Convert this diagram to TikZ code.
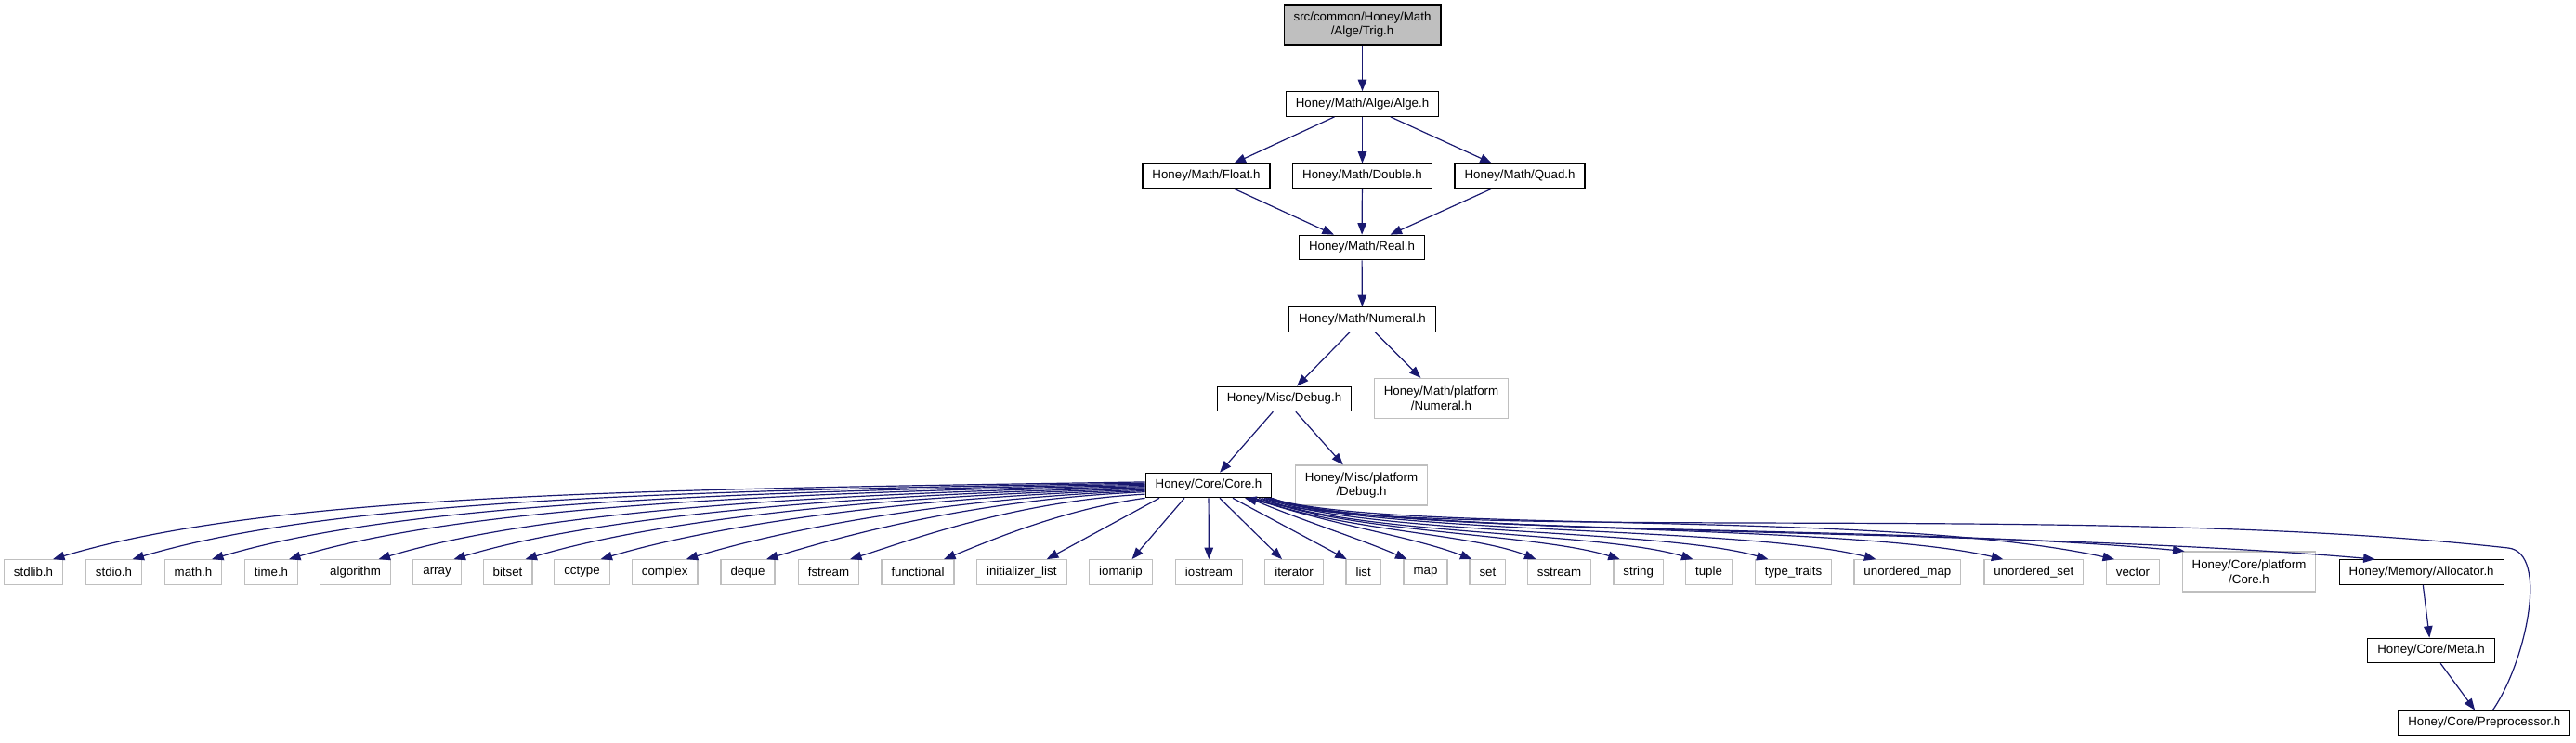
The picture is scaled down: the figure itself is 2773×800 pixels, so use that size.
\documentclass[tikz,border=0pt]{standalone}
\usepackage{fontspec}
\setmainfont{Liberation Sans}
\usepackage{tikz}
\usetikzlibrary{arrows.meta}

\definecolor{edgeblue}{HTML}{191970}
\definecolor{extgrey}{HTML}{BFBFBF}

\begin{document}
\begin{tikzpicture}[x=1pt, y=-1pt,
    file/.style={draw=black, line width=1.2pt, rectangle, inner xsep=10.5pt, inner ysep=0pt,
                 minimum height=26.5pt, align=center, font=\fontsize{13.3}{15.7}\selectfont},
    sys/.style={file, draw=extgrey},
    two/.style={minimum height=43pt},
    dep/.style={draw=edgeblue, line width=1.2pt, -{Triangle[length=12.5pt,width=9.5pt]}}]
    \useasboundingbox (0,0) rectangle (2773,800);

    % --- Haut du graphe : Trig.h et ses inclusions ---
    \node[file, fill=extgrey, two] (trig) at (1466.5,26.5) {src/common/Honey/Math\\/Alge/Trig.h};
    \node[file] (alge) at (1466.5,112) {Honey/Math/Alge/Alge.h};
    \node[file] (float) at (1298.5,189.5) {Honey/Math/Float.h};
    \node[file] (double) at (1466.5,189.5) {Honey/Math/Double.h};
    \node[file] (quad) at (1636,189.5) {Honey/Math/Quad.h};
    \node[file] (real) at (1466,266.5) {Honey/Math/Real.h};
    \node[file] (numeral) at (1466.5,344) {Honey/Math/Numeral.h};
    \node[file] (debug) at (1382.5,429.5) {Honey/Misc/Debug.h};
    \node[sys, two] (numplat) at (1551.5,429) {Honey/Math/platform\\/Numeral.h};
    \node[file] (core) at (1301,522.5) {Honey/Core/Core.h};
    \node[sys, two] (debugplat) at (1465.5,522.5) {Honey/Misc/platform\\/Debug.h};

    % --- Rangee du bas : en-tetes standard ---
    \node[sys] (stdlib) at (36,616) {stdlib.h};
    \node[sys] (stdio) at (122.5,616) {stdio.h};
    \node[sys] (mathh) at (208,616) {math.h};
    \node[sys] (timeh) at (292,616) {time.h};
    \node[sys] (algorithm) at (382.5,616) {algorithm};
    \node[sys] (array) at (470.5,616) {array};
    \node[sys] (bitset) at (546.5,616) {bitset};
    \node[sys] (cctype) at (626.5,616) {cctype};
    \node[sys] (complex) at (715.7,616) {complex};
    \node[sys] (deque) at (805,616) {deque};
    \node[sys] (fstream) at (892,616) {fstream};
    \node[sys] (functional) at (988,616) {functional};
    \node[sys] (initlist) at (1099.8,616) {initializer\_list};
    \node[sys] (iomanip) at (1206.5,616) {iomanip};
    \node[sys] (iostream) at (1301.4,616) {iostream};
    \node[sys] (iterator) at (1393,616) {iterator};
    \node[sys] (list) at (1467.7,616) {list};
    \node[sys] (map) at (1534.5,616) {map};
    \node[sys] (set) at (1601.4,616) {set};
    \node[sys] (sstream) at (1678.5,616) {sstream};
    \node[sys] (string) at (1763.7,616) {string};
    \node[sys] (tuple) at (1839.5,616) {tuple};
    \node[sys] (typetraits) at (1930.5,616) {type\_traits};
    \node[sys] (umap) at (2053.4,616) {unordered\_map};
    \node[sys] (uset) at (2189.3,616) {unordered\_set};
    \node[sys] (vector) at (2296,616) {vector};
    \node[sys, two] (coreplat) at (2421,615.5) {Honey/Core/platform\\/Core.h};
    \node[file] (allocator) at (2606.6,616) {Honey/Memory/Allocator.h};

    % --- Branche Memory ---
    \node[file] (meta) at (2617,700.5) {Honey/Core/Meta.h};
    \node[file] (preproc) at (2674.3,778.5) {Honey/Core/Preprocessor.h};
    \coordinate (turn) at (2700,590);

    % --- Chaine principale ---
    \draw[dep] (trig) -- (alge);
    \draw[dep] (alge) -- (float);
    \draw[dep] (alge) -- (double);
    \draw[dep] (alge) -- (quad);
    \draw[dep] (float) -- (real);
    \draw[dep] (double) -- (real);
    \draw[dep] (quad) -- (real);
    \draw[dep] (real) -- (numeral);
    \draw[dep] (numeral) -- (debug);
    \draw[dep] (numeral) -- (numplat);
    \draw[dep] (debug) -- (core);
    \draw[dep] (debug) -- (debugplat);

    % --- Core.h vers la gauche ---
    \draw[dep] (core.177) .. controls +(-529,8) and +(235,-71) .. ([xshift=21pt]stdlib.north);
    \draw[dep] (core.178) .. controls +(-491,8) and +(218,-65) .. ([xshift=20pt]stdio.north);
    \draw[dep] (core.179) .. controls +(-452,8) and +(201,-60) .. ([xshift=20pt]mathh.north);
    \draw[dep] (core.180) .. controls +(-415,8) and +(184,-55) .. ([xshift=19pt]timeh.north);
    \draw[dep] (core.181) .. controls +(-372,8) and +(165,-50) .. ([xshift=25pt]algorithm.north);
    \draw[dep] (core.182) .. controls +(-335,8) and +(149,-45) .. ([xshift=18pt]array.north);
    \draw[dep] (core.183) .. controls +(-301,8) and +(134,-40) .. ([xshift=19pt]bitset.north);
    \draw[dep] (core.184) .. controls +(-264,8) and +(117,-35) .. ([xshift=20pt]cctype.north);
    \draw[dep] (core.185) .. controls +(-222,8) and +(99,-30) .. ([xshift=23pt]complex.north);
    \draw[dep] (core.186) .. controls +(-184,8) and +(82,-25) .. ([xshift=20pt]deque.north);
    \draw[dep] (core.188) .. controls +(-143,8) and +(64,-20) .. ([xshift=23pt]fstream.north);
    \draw[dep] (core.south west) .. controls +(-90,12) and +(45,-18) .. ([xshift=28pt]functional.north);
    \draw[dep] ([xshift=-53pt]core.south) -- ([xshift=27pt]initlist.north);
    \draw[dep] ([xshift=-26pt]core.south) -- ([xshift=12pt]iomanip.north);
    \draw[dep] (core) -- (iostream);

    % --- Core.h vers la droite (sous Debug.h platform) ---
    \draw[dep] ([xshift=12pt]core.south) -- ([xshift=-13pt]iterator.north);
    \draw[dep] ([xshift=26pt]core.south) -- ([xshift=-18pt]list.north);
    \draw[dep] ([xshift=44pt]core.south) .. controls +(50,22) and +(-50,-22) .. ([xshift=-20pt]map.north);
    \draw[dep] ([xshift=47pt]core.south) .. controls +(80,28) and +(-65,-25) .. ([xshift=-17pt]set.north);
    \draw[dep] ([xshift=50pt]core.south) .. controls +(90,35) and +(-70,-28) .. ([xshift=-25pt]sstream.north);
    \draw[dep] ([xshift=54pt]core.south) .. controls +(100,38) and +(-90,-28) .. ([xshift=-20pt]string.north);
    \draw[dep] ([xshift=57pt]core.south) .. controls +(100,40) and +(-100,-30) .. ([xshift=-17pt]tuple.north);
    \draw[dep] ([xshift=60pt]core.south) .. controls +(110,40) and +(-115,-33) .. ([xshift=-27pt]typetraits.north);
    \draw[dep] ([xshift=62pt]core.south) .. controls +(120,40) and +(-140,-36) .. ([xshift=-34pt]umap.north);
    \draw[dep] ([xshift=64pt]core.south) .. controls +(120,40) and +(-170,-40) .. ([xshift=-33pt]uset.north);
    \draw[dep] ([xshift=66pt]core.south) .. controls +(130,40) and +(-250,-55) .. ([xshift=-20pt]vector.north);
    \draw[dep] ([xshift=67pt]core.south) .. controls +(110,42) and +(-320,-30) .. ([xshift=3pt]coreplat.north west);
    \draw[dep] (core.south east) .. controls +(100,42) and +(-400,-35) .. ([xshift=-50pt]allocator.north);

    % --- Allocator -> Meta -> Preprocessor -> Core ---
    \draw[dep] (allocator) -- (meta);
    \draw[dep] (meta) -- (preproc);
    \draw[dep] ([xshift=9pt]preproc.north) .. controls +(35,-50) and +(45,5) .. (turn)
        .. controls +(-450,-50) and +(210,49) .. ([xshift=39pt]core.south);

\end{tikzpicture}
\end{document}
